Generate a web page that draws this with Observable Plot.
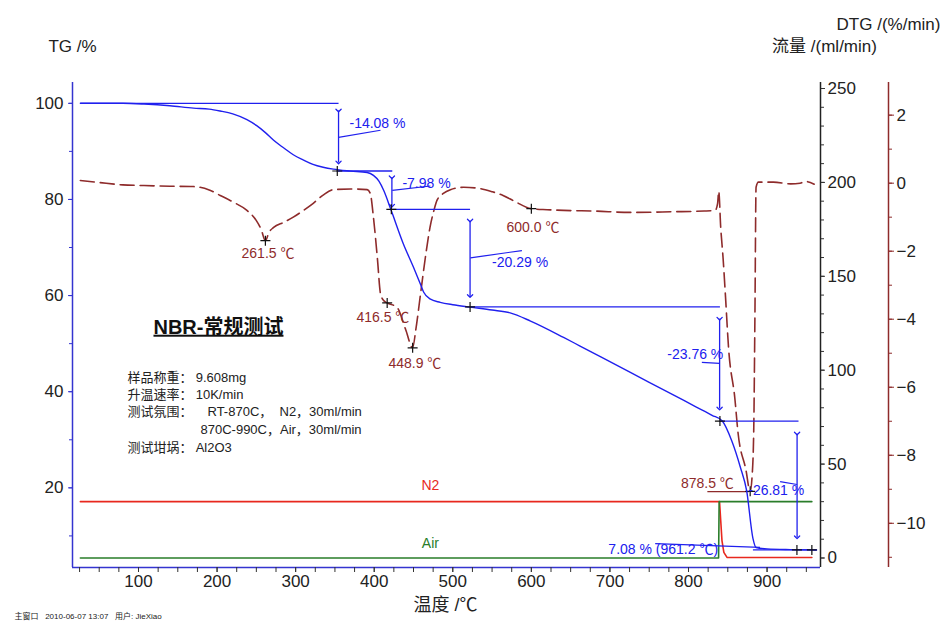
<!DOCTYPE html>
<html><head><meta charset="utf-8">
<script src="https://cdn.jsdelivr.net/npm/d3@7"></script>
<script src="https://cdn.jsdelivr.net/npm/@observablehq/plot@0.6"></script>
<style>
body{margin:0;background:#fff}
#chart{position:relative;width:952px;height:635px;background:#fff}
#chart svg{position:absolute;left:0;top:0}
</style></head><body><div id="chart"></div>
<script>
// ---------- data ----------
const tgTemp  = [26, 80, 107, 140, 170, 190, 204, 220, 238, 250, 261.5, 272, 285, 297, 310, 322, 335, 348, 370, 391, 399, 406, 412, 421, 437, 450, 459, 463, 471, 484, 500, 522, 550, 573, 599, 641, 662, 726, 780, 810, 830, 843, 855, 866, 874, 882, 886, 900, 930, 963];
const tgValue = [100, 100, 99.85, 99.5, 99.0, 98.8, 98.4, 97.8, 96.6, 95.4, 93.9, 92.3, 90.7, 89.3, 88.2, 87.3, 86.7, 86.3, 85.9, 85.6, 85.0, 83.8, 81.9, 78.0, 70.8, 65.9, 62.3, 60.7, 59.3, 58.6, 58.1, 57.6, 57.0, 56.4, 54.7, 51.3, 49.5, 44.0, 39.4, 36.8, 35.1, 33.9, 29.8, 24.3, 19.4, 9.5, 7.6, 7.3, 7.15, 7.08];

const dtgTemp  = [26, 50, 80, 107, 140, 170, 190, 204, 220, 238, 250, 256, 261.5, 266, 272, 285, 297, 310, 322, 335, 348, 370, 391, 395, 399, 404, 408, 412, 416.5, 429, 440, 448.9, 453, 459, 465, 471, 476, 480, 488, 497, 514, 535, 550, 564, 580, 600, 620, 641, 680, 726, 780, 820, 834, 837, 838.5, 841, 844, 847, 851, 859, 863, 873, 878.5, 881, 883, 884.5, 886, 889, 908, 930, 942, 949, 960];
const dtgValue = [0.08, 0.02, -0.05, -0.07, -0.09, -0.1, -0.2, -0.36, -0.55, -0.8, -1.1, -1.35, -1.69, -1.45, -1.3, -1.15, -1.0, -0.8, -0.6, -0.35, -0.19, -0.17, -0.19, -0.3, -1.0, -2.2, -3.25, -3.45, -3.52, -3.65, -4.3, -4.84, -4.3, -3.25, -2.2, -1.3, -0.8, -0.5, -0.3, -0.19, -0.12, -0.16, -0.25, -0.36, -0.55, -0.75, -0.78, -0.8, -0.82, -0.86, -0.84, -0.82, -0.8, -0.6, -0.24, -1.3, -2.2, -3.3, -4.85, -6.33, -7.33, -8.42, -9.06, -8.6, -7.3, -4.0, -0.12, 0.03, 0.03, -0.02, 0.0, 0.05, -0.03];

const n2Temp  = [26, 839.5, 841, 842.6, 845, 849, 957];
const n2Flow  = [30, 30, 20, 9.3, 3, 0.3, 0.3];
const airTemp = [26, 838.3, 839, 957];
const airFlow = [0, 0, 30, 30];

// TG step evaluation
const stepLevel = [100, 85.92, 77.94, 57.65, 33.89, 7.08];
const stepFrom  = [26, 352, 421, 522, 839, 882];
const stepTo    = [354.6, 423, 522, 840, 940, 963];
const arrowTemp   = [354.6, 422.5, 522, 839.6, 938.2];
const arrowTop    = [98.5, 84.6, 75.6, 55.2, 31.3];
const arrowBottom = [87.7, 78.7, 59.9, 36.5, 9.7];
const stepLabels  = ["-14.08 %", "-7.98 %", "-20.29 %", "-23.76 %", "-26.81 %", "7.08 % (961.2 ℃)"];
const stepLabelTemp = [368.5, 435.9, 550, 773, 876, 698];
const stepLabelTG   = [95.9, 83.4, 66.8, 47.7, 19.4, 7.18];
const leaderT1 = [354.6, 423, 522.4, 839.6, 938.2, 757.6];
const leaderY1 = [92.9, 81.9, 67.85, 45.9, 20.7, 8.4];
const leaderT2 = [408, 471.6, 588, 817, 916.6, 891];
const leaderY2 = [94.4, 82.8, 69.37, 46.1, 21.3, 7.6];
const crossTemp = [353, 421.8, 522, 840, 938, 957];
const crossTG   = [85.92, 77.94, 57.65, 33.89, 7.08, 7.08];

// DTG peaks
const peakTemp   = [261.5, 416.5, 448.9, 600.0, 878.5];
const peakDTG    = [-1.69, -3.52, -4.84, -0.75, -9.06];
const peakLabels = ["261.5 ℃", "416.5 ℃", "448.9 ℃", "600.0 ℃", "878.5 ℃"];
const peakLabelTemp = [264.8, 411, 451.8, 602, 824];
const peakLabelDTG  = [-2.07, -3.94, -5.30, -1.29, -8.83];

// info text
const infoKeys   = ["样品称重：", "升温速率：", "测试氛围：", "", "测试坩埚："];
const infoValues = ["9.608mg", "10K/min", "RT-870C，  N2，30ml/min", "870C-990C，Air，30ml/min", "Al2O3"];
const infoRowTG  = [42.95, 39.4, 35.9, 32.1, 28.4];
const infoValueTemp = [172.8, 172.8, 187.8, 178.9, 172.8];

// ticks
const xMajor = [100, 200, 300, 400, 500, 600, 700, 800, 900];
const xMinor = d3.range(25, 968, 25);
const tgMajor = [20, 40, 60, 80, 100];
const tgMinor = d3.range(10, 104, 10);
const flowMajor = [0, 50, 100, 150, 200, 250];
const flowMinor = d3.range(0, 251, 10);
const dtgMajor = [2, 0, -2, -4, -6, -8, -10];
const dtgMinor = d3.range(-11, 3, 1);

// ---------- layout ----------
const W = 952, H = 635;
const M = {marginTop: 82, marginRight: 132, marginBottom: 68, marginLeft: 72};
const xDomain = [16, 968];
const tgDomain = [3.43, 104.33];
const flowDomain = [-5.06, 253.2];
const dtgDomain = [-11.3, 2.96];
const dtgAxisPx = 888, frameRightPx = W - M.marginRight;
const dtgXDomain = [xDomain[0], xDomain[0] + (xDomain[1] - xDomain[0]) * (dtgAxisPx - M.marginLeft) / (frameRightPx - M.marginLeft)];

const NARROW = "'Liberation Sans Narrow','Liberation Sans',Arial,'Noto Sans CJK SC',sans-serif";
const SANS = "'Liberation Sans',Arial,'Noto Sans CJK SC',sans-serif";
const BLUE = "#2020ee", AXBLUE = "#3434d0", DRED = "#8e2b2b", RED = "#e8281e", GREEN = "#2a7d2a";
const style = {background: "transparent", overflow: "visible", fontFamily: NARROW, fontSize: "17px", color: "#222"};

const plus = {draw(ctx, size) { const r = Math.sqrt(size / Math.PI); ctx.moveTo(-r, 0); ctx.lineTo(r, 0); ctx.moveTo(0, -r); ctx.lineTo(0, r); }};
const blank = () => "";

const tgData = tgTemp.map((t, i) => ({t, v: tgValue[i]}));
const dtgData = dtgTemp.map((t, i) => ({t, v: dtgValue[i]}));
const n2Data = n2Temp.map((t, i) => ({t, v: n2Flow[i]}));
const airData = airTemp.map((t, i) => ({t, v: airFlow[i]}));
const steps = stepLevel.map((v, i) => ({v, a: stepFrom[i], b: stepTo[i]}));
const arrows = arrowTemp.map((t, i) => ({t, a: arrowTop[i], b: arrowBottom[i]}));
const sLabels = stepLabels.map((s, i) => ({s, t: stepLabelTemp[i], v: stepLabelTG[i]}));
const leaders = leaderT1.map((t, i) => ({t1: t, y1: leaderY1[i], t2: leaderT2[i], y2: leaderY2[i]}));
const crosses = crossTemp.map((t, i) => ({t, v: crossTG[i]}));
const peaks = peakTemp.map((t, i) => ({t, v: peakDTG[i]}));
const pLabels = peakLabels.map((s, i) => ({s, t: peakLabelTemp[i], v: peakLabelDTG[i]}));
const infoK = infoKeys.map((s, i) => ({s, v: infoRowTG[i]}));
const infoV = infoValues.map((s, i) => ({s, t: infoValueTemp[i], v: infoRowTG[i]}));

// ---------- flow layer ----------
const flowPlot = Plot.plot({
  width: W, height: H, ...M, style,
  x: {domain: xDomain, axis: null},
  y: {domain: flowDomain, label: null},
  marks: [
    Plot.line(n2Data, {x: "t", y: "v", stroke: RED, strokeWidth: 1.6}),
    Plot.line(airData, {x: "t", y: "v", stroke: GREEN, strokeWidth: 1.6}),
    Plot.text(["N2"], {x: [471.5], y: [38.6], text: d => d, fill: RED, fontFamily: SANS, fontSize: 14}),
    Plot.text(["Air"], {x: [471.5], y: [7.7], text: d => d, fill: GREEN, fontFamily: SANS, fontSize: 14}),
    Plot.ruleX([xDomain[1]], {stroke: "#222", strokeWidth: 1.5}),
    Plot.axisY(flowMinor, {anchor: "right", tickSize: 3, tickFormat: blank, stroke: "#333", label: null}),
    Plot.axisY(flowMajor, {anchor: "right", tickSize: 4, tickPadding: 3, stroke: "#333", fill: "#222", label: null})
  ]
});

// ---------- DTG layer ----------
const dtgPlot = Plot.plot({
  width: W, height: H, ...M, marginRight: W - dtgAxisPx, style,
  x: {domain: dtgXDomain, axis: null},
  y: {domain: dtgDomain, label: null},
  marks: [
    Plot.line(dtgData, {x: "t", y: "v", stroke: DRED, strokeWidth: 1.6, strokeDasharray: "14,6", curve: "monotone-x"}),
    Plot.link([{t1: 824, t2: 876.8, v: -9.07}], {x1: "t1", x2: "t2", y1: "v", y2: "v", stroke: DRED, strokeWidth: 1.3}),
    Plot.dot(peaks, {x: "t", y: "v", symbol: plus, r: 5, fill: "none", stroke: "#111", strokeWidth: 1.2}),
    Plot.text(pLabels, {x: "t", y: "v", text: "s", fill: DRED, fontFamily: SANS, fontSize: 14}),
    Plot.ruleX([dtgXDomain[1]], {stroke: DRED, strokeWidth: 1.5}),
    Plot.axisY(dtgMinor, {anchor: "right", tickSize: 3, tickFormat: blank, stroke: DRED, label: null}),
    Plot.axisY(dtgMajor, {anchor: "right", tickSize: 5, tickPadding: 3, stroke: DRED, fill: "#222", label: null})
  ]
});

// ---------- TG layer ----------
const tgPlot = Plot.plot({
  width: W, height: H, ...M, style,
  x: {domain: xDomain, label: null},
  y: {domain: tgDomain, label: null},
  marks: [
    Plot.ruleX([xDomain[0]], {stroke: AXBLUE, strokeWidth: 1.5}),
    Plot.ruleY([tgDomain[0]], {stroke: AXBLUE, strokeWidth: 1.5}),
    Plot.axisX(xMinor, {anchor: "bottom", tickSize: 5, tickFormat: blank, stroke: "#333", label: null}),
    Plot.axisX(xMajor, {anchor: "bottom", tickSize: 5, tickPadding: 2, stroke: "#333", fill: "#222", label: null}),
    Plot.axisY(tgMinor, {anchor: "left", tickSize: 3, tickFormat: blank, stroke: AXBLUE, label: null}),
    Plot.axisY(tgMajor, {anchor: "left", tickSize: 4, tickPadding: 5, stroke: AXBLUE, fill: "#222", label: null}),
    Plot.link(steps, {x1: "a", x2: "b", y1: "v", y2: "v", stroke: BLUE, strokeWidth: 1.3}),
    Plot.link(arrows, {x1: "t", x2: "t", y1: "a", y2: "b", stroke: BLUE, strokeWidth: 1.3, markerStart: "arrow", markerEnd: "arrow"}),
    Plot.link(leaders, {x1: "t1", y1: "y1", x2: "t2", y2: "y2", stroke: BLUE, strokeWidth: 1.2}),
    Plot.line(tgData, {x: "t", y: "v", stroke: BLUE, strokeWidth: 1.4, curve: "monotone-x"}),
    Plot.dot(crosses, {x: "t", y: "v", symbol: plus, r: 5, fill: "none", stroke: "#111", strokeWidth: 1.2}),
    Plot.text(sLabels, {x: "t", y: "v", text: "s", textAnchor: "start", fill: BLUE, fontFamily: SANS, fontSize: 14}),
    Plot.text(["NBR-常规测试"], {x: [201.8], y: [53.4], text: d => d, fill: "#111", fontFamily: SANS, fontSize: 20, fontWeight: "bold"}),
    Plot.text(infoK, {x: () => 86.1, y: "v", text: "s", textAnchor: "start", fill: "#222", fontFamily: SANS, fontSize: 13}),
    Plot.text(infoV, {x: "t", y: "v", text: "s", textAnchor: "start", fill: "#222", fontFamily: SANS, fontSize: 13}),
    Plot.text(["TG /%"], {frameAnchor: "top-left", textAnchor: "middle", lineAnchor: "middle", dx: 0, dy: -36, text: d => d, fill: "#222", fontSize: 17}),
    Plot.text(["流量 /(ml/min)"], {frameAnchor: "top-right", textAnchor: "middle", lineAnchor: "middle", dx: 4, dy: -36, text: d => d, fill: "#222", fontSize: 17}),
    Plot.text(["DTG /(%/min)"], {frameAnchor: "top-right", textAnchor: "middle", lineAnchor: "middle", dx: 68, dy: -58, text: d => d, fill: "#222", fontSize: 17}),
    Plot.text(["温度 /℃"], {frameAnchor: "bottom", textAnchor: "middle", lineAnchor: "middle", dx: -1, dy: 38, text: d => d, fill: "#222", fontSize: 18}),
    Plot.text(["主窗口   2010-06-07 13:07   用户: JieXiao"], {frameAnchor: "bottom-left", textAnchor: "start", lineAnchor: "middle", dx: -58, dy: 49, text: d => d, fill: "#222", fontFamily: SANS, fontSize: 8})
  ]
});

const chart = document.getElementById("chart");
[flowPlot, dtgPlot, tgPlot].forEach(p => chart.appendChild(p));
tgPlot.querySelectorAll("text").forEach(t => { if (t.textContent === "NBR-常规测试") t.setAttribute("text-decoration", "underline"); });
</script></body></html>
